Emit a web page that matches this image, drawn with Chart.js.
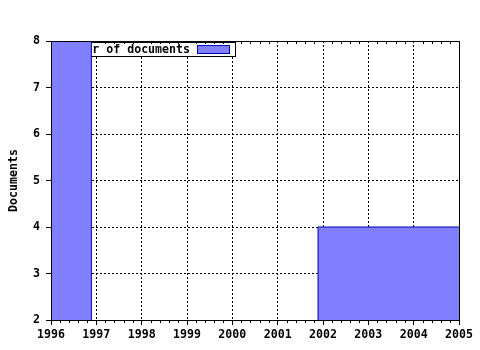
<!DOCTYPE html>
<html>
<head>
<meta charset="utf-8">
<script src="https://cdn.jsdelivr.net/npm/chart.js@4.4.1/dist/chart.umd.min.js"></script>
<style>
html, body { margin: 0; padding: 0; background: #fff; }
</style>
</head>
<body>
<canvas id="docchart" width="480" height="350"></canvas>
<script>
// values
const years = [1996, 1997, 1998, 1999, 2000, 2001, 2002, 2003, 2004, 2005];
const docs = [8, 0, 0, 0, 0, 0, 4, 4, 4, 4];
const yRange = [2, 8];
const seriesLabel = 'Number of documents';

const barShift = -0.11; // bars start a little before each year
const fillColor = '#8080ff';
const edgeColor = '#0000b0';
const labelFont = { family: 'DejaVu Sans Mono', size: 11.6, weight: 'bold' };

const points = years.map((y, i) => ({ x: y + barShift, y: docs[i] }));
points.push({ x: years[years.length - 1] + 1 + barShift, y: docs[docs.length - 1] });

// legend box sits under the bars, like the original
const legendBox = {
    id: 'legendBox',
    beforeDatasetsDraw(chart) {
        const ctx = chart.ctx;
        const a = chart.chartArea;
        const right = 235, top = a.top + 1, h = 14;
        ctx.save();
        ctx.fillStyle = '#fff';
        ctx.fillRect(a.left + 1, top, right - a.left - 1, h);
        ctx.strokeStyle = '#000';
        ctx.lineWidth = 1;
        ctx.strokeRect(a.left + 1.5, top + 0.5, right - a.left - 1, h);
        ctx.fillStyle = fillColor;
        ctx.fillRect(right - 37, top + 3, 31, 8);
        ctx.strokeStyle = edgeColor;
        ctx.strokeRect(right - 37.5, top + 3.5, 32, 8);
        ctx.fillStyle = '#000';
        ctx.font = 'bold 11.6px "DejaVu Sans Mono"';
        ctx.textAlign = 'right';
        ctx.textBaseline = 'middle';
        ctx.fillText(seriesLabel, right - 45, top + h / 2 + 1);
        // minor ticks on top and bottom edges
        const xs = chart.scales.x;
        ctx.strokeStyle = '#000';
        ctx.beginPath();
        for (let i = 0; i < years.length - 1; i++) {
            for (let k = 1; k < 5; k++) {
                const px = Math.round(xs.getPixelForValue(years[i] + k / 5)) + 0.5;
                ctx.moveTo(px, a.bottom);
                ctx.lineTo(px, a.bottom + 3);
                ctx.moveTo(px, a.top);
                ctx.lineTo(px, a.top + 3);
            }
        }
        ctx.stroke();
        ctx.restore();
    },
    afterDatasetsDraw(chart) {
        const ctx = chart.ctx;
        const a = chart.chartArea;
        ctx.save();
        ctx.strokeStyle = '#000';
        ctx.lineWidth = 1;
        ctx.strokeRect(a.left + 0.5, a.top + 0.5, a.right - a.left, a.bottom - a.top);
        ctx.restore();
    }
};

const ctx = document.getElementById('docchart').getContext('2d');

const myChart = new Chart(ctx, {
    type: 'line',
    data: {
        datasets: [
            {
                label: seriesLabel,
                data: points,
                stepped: 'before',
                fill: 'start',
                backgroundColor: fillColor,
                borderColor: edgeColor,
                borderWidth: 1,
                pointRadius: 0,
                clip: 0,
            },
        ],
    },
    options: {
        responsive: false,
        animation: false,
        devicePixelRatio: 1,
        layout: {
            padding: { top: 41, right: 21, left: 0, bottom: 0 },
        },
        plugins: {
            legend: { display: false },
            tooltip: { enabled: false },
        },
        scales: {
            x: {
                type: 'linear',
                min: years[0],
                max: years[years.length - 1],
                afterFit: (s) => { s.height = 30; },
                ticks: {
                    stepSize: 1,
                    color: '#000',
                    font: labelFont,
                    padding: 3,
                    maxRotation: 0,
                    callback: (v) => String(v),
                },
                grid: {
                    color: '#000',
                    tickBorderDash: [],
                    tickColor: '#000',
                    tickLength: 5,
                },
                border: { color: '#000', dash: [2, 2] },
            },
            y: {
                min: yRange[0],
                max: yRange[1],
                afterFit: (s) => { s.width = 51; },
                title: {
                    display: true,
                    text: 'Documents',
                    color: '#000',
                    font: labelFont,
                    padding: { top: 7, bottom: 0 },
                },
                ticks: {
                    stepSize: 1,
                    color: '#000',
                    font: labelFont,
                    padding: 6,
                },
                grid: {
                    color: '#000',
                    tickBorderDash: [],
                    tickColor: '#000',
                    tickLength: 5,
                },
                border: { color: '#000', dash: [2, 2] },
            },
        },
    },
    plugins: [legendBox],
});
</script>
</body>
</html>
